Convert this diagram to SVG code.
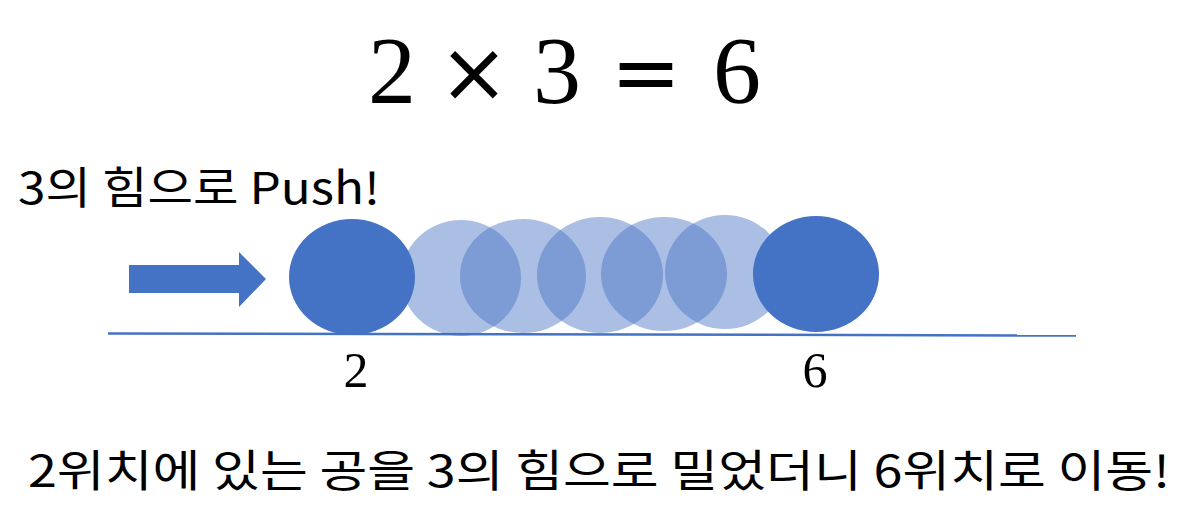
<svg xmlns="http://www.w3.org/2000/svg" width="1186" height="527" viewBox="0 0 1186 527">
  <style>
    .math { font-family: "Liberation Serif", "DejaVu Serif", serif; fill: #000; text-anchor: middle; }
    .op { font-family: "DejaVu Sans", sans-serif; fill: #000; text-anchor: middle; }
    .kr { font-family: "Noto Sans CJK KR", "Noto Sans", sans-serif; fill: #000; }
    .solid { fill: #4472C4; }
    .ghost { fill: #4472C4; fill-opacity: 0.45; }
  </style>
  <rect width="1186" height="527" fill="#ffffff"/>
  <g id="title">
    <text class="math" font-size="96" y="103"><tspan x="392">2</tspan><tspan x="557">3</tspan><tspan x="737">6</tspan></text>
    <text class="op" font-size="84" y="101"><tspan x="474">×</tspan><tspan x="646">=</tspan></text>
  </g>
  <g id="push-label">
    <text class="kr" font-size="44" x="18" y="204" textLength="362" lengthAdjust="spacingAndGlyphs">3의 힘으로 Push!</text>
  </g>
  <g id="push-arrow">
    <polygon class="solid" points="129,265 239,265 239,252 266,279 239,307 239,293 129,293"/>
  </g>
  <g id="ground">
    <line x1="108" y1="333.5" x2="1076" y2="335.5" stroke="#4472C4" stroke-width="2.5"/>
  </g>
  <g id="trail">
    <ellipse class="ghost" cx="461" cy="278" rx="60" ry="58"/>
    <ellipse class="ghost" cx="523" cy="276" rx="63" ry="57"/>
    <ellipse class="ghost" cx="600" cy="275" rx="63" ry="58"/>
    <ellipse class="ghost" cx="664" cy="274" rx="63" ry="57"/>
    <ellipse class="ghost" cx="725" cy="272" rx="60" ry="57"/>
  </g>
  <g id="ball-start">
    <ellipse class="solid" cx="352" cy="277" rx="63" ry="58"/>
  </g>
  <g id="ball-end">
    <ellipse class="solid" cx="816" cy="274" rx="63" ry="58"/>
  </g>
  <g id="label-2">
    <text class="math" font-size="50" x="356" y="387">2</text>
  </g>
  <g id="label-6">
    <text class="math" font-size="50" x="815" y="387">6</text>
  </g>
  <g id="caption">
    <text class="kr" font-size="44" x="28" y="487" textLength="1142" lengthAdjust="spacingAndGlyphs">2위치에 있는 공을 3의 힘으로 밀었더니 6위치로 이동!</text>
  </g>
</svg>
